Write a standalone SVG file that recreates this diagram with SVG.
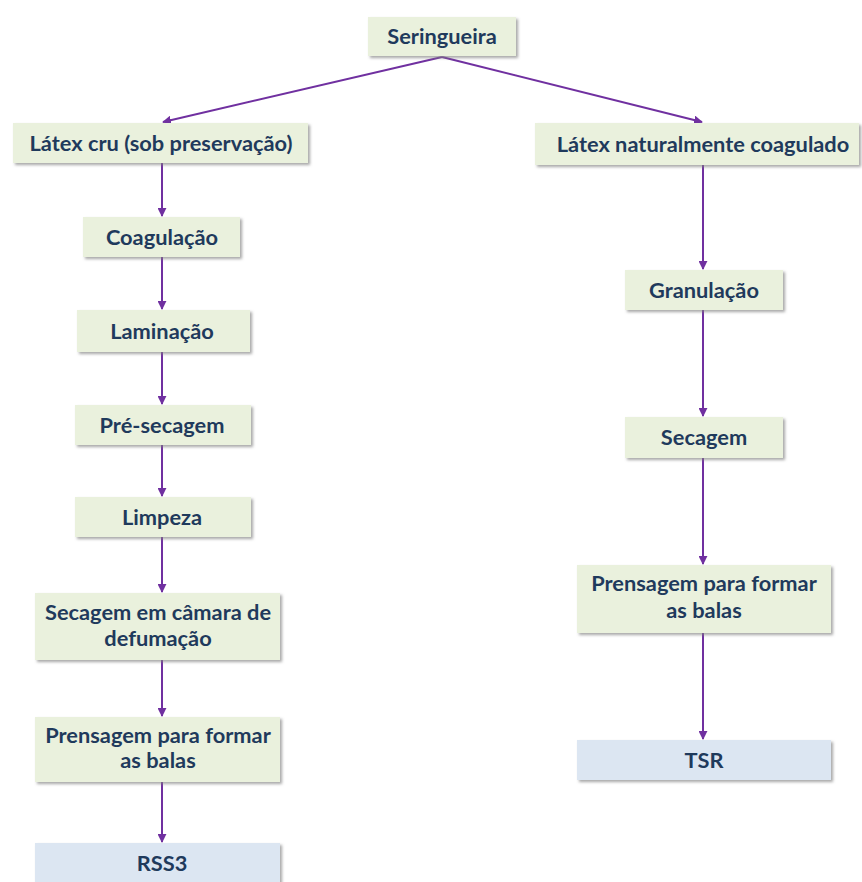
<svg xmlns="http://www.w3.org/2000/svg" width="862" height="882" viewBox="0 0 862 882">
<defs>
<filter id="sh" x="-10%" y="-20%" width="130%" height="160%">
<feDropShadow dx="2" dy="2" stdDeviation="1.5" flood-color="#808080" flood-opacity="0.7"/>
</filter>
<marker id="ah" viewBox="0 0 10 10" refX="9" refY="5" markerWidth="4.5" markerHeight="4.5" orient="auto" markerUnits="strokeWidth">
<path d="M0,0 L10,5 L0,10 z" fill="#7030A0"/>
</marker>
<style>
.g{fill:#EAF1DD;filter:url(#sh);}
.b{fill:#DCE6F2;filter:url(#sh);}
.t{font-family:Lato,"Open Sans","Liberation Sans",sans-serif;font-weight:bold;font-size:21.8px;fill:#1F3A5C;text-anchor:middle;}
.c{stroke:#7030A0;stroke-width:2;fill:none;marker-end:url(#ah);}
</style>
</defs>
<rect width="862" height="882" fill="#FFFFFF"/>
<g id="connectors">
<line class="c" x1="442" y1="57" x2="163" y2="122"/>
<line class="c" x1="442" y1="57" x2="702" y2="122"/>
<line class="c" x1="162" y1="163" x2="162" y2="216"/>
<line class="c" x1="162" y1="257" x2="162" y2="309"/>
<line class="c" x1="162" y1="352" x2="162" y2="404"/>
<line class="c" x1="162" y1="445" x2="162" y2="496"/>
<line class="c" x1="162" y1="537" x2="162" y2="592"/>
<line class="c" x1="162" y1="660" x2="162" y2="716"/>
<line class="c" x1="162" y1="782" x2="162" y2="842"/>
<line class="c" x1="703" y1="165" x2="703" y2="269"/>
<line class="c" x1="703" y1="310" x2="703" y2="416"/>
<line class="c" x1="703" y1="458" x2="703" y2="564"/>
<line class="c" x1="703" y1="633" x2="703" y2="739"/>
</g>
<g id="seringueira"><rect class="g" x="368" y="17" width="148" height="39"/><text class="t" x="442" y="44">Seringueira</text></g>
<g id="latex-cru"><rect class="g" x="13" y="123" width="295" height="40"/><text class="t" x="161" y="151">Látex cru (sob preservação)</text></g>
<g id="latex-nat"><rect class="g" x="535" y="123" width="324" height="42"/><text class="t" x="703" y="152">Látex naturalmente coagulado</text></g>
<g id="coagulacao"><rect class="g" x="83" y="217" width="157" height="40"/><text class="t" x="162" y="245">Coagulação</text></g>
<g id="laminacao"><rect class="g" x="77" y="310" width="173" height="42"/><text class="t" x="162" y="339">Laminação</text></g>
<g id="pre-secagem"><rect class="g" x="75" y="405" width="176" height="40"/><text class="t" x="162" y="433">Pré-secagem</text></g>
<g id="limpeza"><rect class="g" x="75" y="497" width="176" height="40"/><text class="t" x="162" y="525">Limpeza</text></g>
<g id="secagem-camara"><rect class="g" x="35" y="593" width="245" height="67"/><text class="t" x="158" y="620">Secagem em câmara de</text><text class="t" x="158" y="646">defumação</text></g>
<g id="prensagem-l"><rect class="g" x="35" y="717" width="245" height="65"/><text class="t" x="158" y="743">Prensagem para formar</text><text class="t" x="158" y="768">as balas</text></g>
<g id="rss3"><rect class="b" x="35" y="843" width="245" height="45"/><text class="t" x="162" y="871">RSS3</text></g>
<g id="granulacao"><rect class="g" x="625" y="270" width="158" height="40"/><text class="t" x="704" y="298">Granulação</text></g>
<g id="secagem"><rect class="g" x="625" y="417" width="158" height="41"/><text class="t" x="704" y="445">Secagem</text></g>
<g id="prensagem-r"><rect class="g" x="577" y="565" width="254" height="68"/><text class="t" x="704" y="591">Prensagem para formar</text><text class="t" x="704" y="618">as balas</text></g>
<g id="tsr"><rect class="b" x="577" y="740" width="254" height="40"/><text class="t" x="704" y="768">TSR</text></g>
</svg>
